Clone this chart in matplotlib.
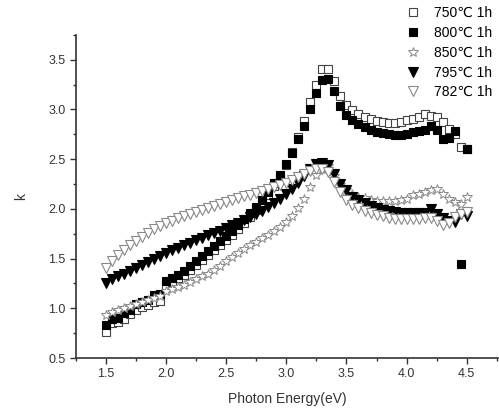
import matplotlib
matplotlib.use('Agg')
import matplotlib.pyplot as plt
from matplotlib.ticker import MultipleLocator

plt.rcParams['font.family'] = ['Liberation Sans', 'DejaVu Sans']

# photon energy grid (eV)
energy = [1.50, 1.55, 1.60, 1.65, 1.70, 1.75, 1.80, 1.85, 1.90, 1.95,
          2.00, 2.05, 2.10, 2.15, 2.20, 2.25, 2.30, 2.35, 2.40, 2.45,
          2.50, 2.55, 2.60, 2.65, 2.70, 2.75, 2.80, 2.85, 2.90, 2.95,
          3.00, 3.05, 3.10, 3.15, 3.20, 3.25, 3.30, 3.35, 3.40, 3.45,
          3.50, 3.55, 3.60, 3.65, 3.70, 3.75, 3.80, 3.85, 3.90, 3.95,
          4.00, 4.05, 4.10, 4.15, 4.20, 4.25, 4.30, 4.35, 4.40, 4.45, 4.50]

# extinction coefficient k for each anneal
k750 = [0.76, 0.85, 0.86, 0.89, 0.94, 0.98, 1.01, 1.03, 1.06, 1.07,
        1.22, 1.26, 1.30, 1.34, 1.39, 1.44, 1.49, 1.54, 1.59, 1.64,
        1.69, 1.74, 1.80, 1.86, 1.92, 1.99, 2.06, 2.14, 2.23, 2.32,
        2.44, 2.57, 2.72, 2.88, 3.07, 3.25, 3.41, 3.41, 3.29, 3.14,
        3.04, 2.99, 2.95, 2.92, 2.90, 2.88, 2.87, 2.86, 2.86, 2.87,
        2.89, 2.90, 2.92, 2.95, 2.93, 2.92, 2.87, 2.80, 2.75, 2.62, 2.60]
k800 = [0.83, 0.89, 0.90, 0.95, 0.98, 1.04, 1.06, 1.08, 1.13, 1.14,
        1.27, 1.30, 1.34, 1.38, 1.43, 1.48, 1.53, 1.58, 1.63, 1.68,
        1.73, 1.78, 1.84, 1.90, 1.96, 2.02, 2.09, 2.17, 2.26, 2.34,
        2.45, 2.56, 2.70, 2.83, 3.00, 3.17, 3.30, 3.31, 3.19, 3.03,
        2.94, 2.89, 2.85, 2.82, 2.79, 2.77, 2.76, 2.75, 2.74, 2.74,
        2.75, 2.77, 2.78, 2.79, 2.83, 2.79, 2.70, 2.71, 2.78, 1.45, 2.60]
k850 = [0.93, 0.96, 0.98, 1.00, 1.02, 1.04, 1.06, 1.08, 1.10, 1.12,
        1.17, 1.19, 1.21, 1.23, 1.26, 1.29, 1.32, 1.35, 1.39, 1.43,
        1.48, 1.52, 1.56, 1.60, 1.64, 1.67, 1.71, 1.74, 1.78, 1.82,
        1.87, 1.93, 2.01, 2.10, 2.22, 2.34, 2.40, 2.43, 2.33, 2.24,
        2.19, 2.15, 2.12, 2.11, 2.09, 2.08, 2.08, 2.08, 2.08, 2.09,
        2.10, 2.14, 2.15, 2.17, 2.19, 2.20, 2.15, 2.10, 2.07, 2.05, 2.12]
k795 = [1.25, 1.29, 1.32, 1.35, 1.38, 1.41, 1.44, 1.47, 1.50, 1.53,
        1.56, 1.59, 1.61, 1.64, 1.66, 1.69, 1.71, 1.74, 1.76, 1.78,
        1.81, 1.84, 1.86, 1.89, 1.92, 1.95, 1.98, 2.02, 2.06, 2.10,
        2.15, 2.20, 2.26, 2.33, 2.40, 2.45, 2.46, 2.44, 2.35, 2.25,
        2.19, 2.12, 2.09, 2.06, 2.03, 2.01, 1.99, 1.98, 1.97, 1.96,
        1.96, 1.96, 1.96, 1.96, 2.00, 1.95, 1.91, 1.88, 1.87, 1.95, 1.93]
k782 = [1.41, 1.48, 1.54, 1.59, 1.64, 1.68, 1.72, 1.76, 1.80, 1.83,
        1.86, 1.88, 1.91, 1.93, 1.95, 1.97, 1.99, 2.01, 2.03, 2.05,
        2.07, 2.09, 2.11, 2.13, 2.14, 2.16, 2.18, 2.20, 2.22, 2.24,
        2.26, 2.29, 2.32, 2.35, 2.38, 2.40, 2.40, 2.37, 2.27, 2.17,
        2.09, 2.04, 2.01, 1.98, 1.96, 1.94, 1.93, 1.91, 1.90, 1.90,
        1.90, 1.90, 1.90, 1.91, 1.91, 1.88, 1.84, 1.86, 1.92, 1.95, 1.97]

labels = ['750\u2103 1h', '800\u2103 1h', '850\u2103 1h', '795\u2103 1h', '782\u2103 1h']

fig = plt.figure(figsize=(4.99, 4.08), dpi=100)
ax = fig.add_axes([0.152, 0.1225, 0.846, 0.792])

ax.plot(energy, k750, 's', ms=5.5, mfc='white', mec='#444444', mew=0.8, label=labels[0])
ax.plot(energy, k800, 's', ms=5.5, mfc='black', mec='black', mew=0.8, label=labels[1])
ax.plot(energy, k850, '*', ms=7.5, mfc='white', mec='#888888', mew=0.7, label=labels[2])
ax.plot(energy, k795, 'v', ms=6.5, mfc='black', mec='black', mew=0.8, label=labels[3])
ax.plot(energy, k782, 'v', ms=6.5, mfc='white', mec='#888888', mew=0.8, label=labels[4])

ax.set_xlim(1.25, 4.76)
ax.set_ylim(0.5, 3.75)
ax.xaxis.set_major_locator(MultipleLocator(0.5))
ax.xaxis.set_minor_locator(MultipleLocator(0.25))
ax.yaxis.set_major_locator(MultipleLocator(0.5))
ax.yaxis.set_minor_locator(MultipleLocator(0.25))
ax.tick_params(which='major', direction='out', length=4, width=1, colors='#333333', labelsize=9)
ax.tick_params(which='minor', direction='out', length=2.5, width=1, colors='#333333')
for s in ['top', 'right']:
    ax.spines[s].set_visible(False)
for s in ['left', 'bottom']:
    ax.spines[s].set_color('#333333')
    ax.spines[s].set_linewidth(1.2)

ax.set_xlabel('Photon Energy(eV)', fontsize=10, color='#333333', labelpad=8)
ax.set_ylabel('k', fontsize=10, color='#333333', labelpad=14)

ax.legend(loc='upper left', bbox_to_anchor=(406 / 499, 1 - 6 / 408),
          bbox_transform=fig.transFigure, frameon=False, fontsize=10,
          handlelength=1.0, handletextpad=1.0, labelspacing=0.42,
          borderpad=0, borderaxespad=0)

fig.savefig('out.png', dpi=100)
